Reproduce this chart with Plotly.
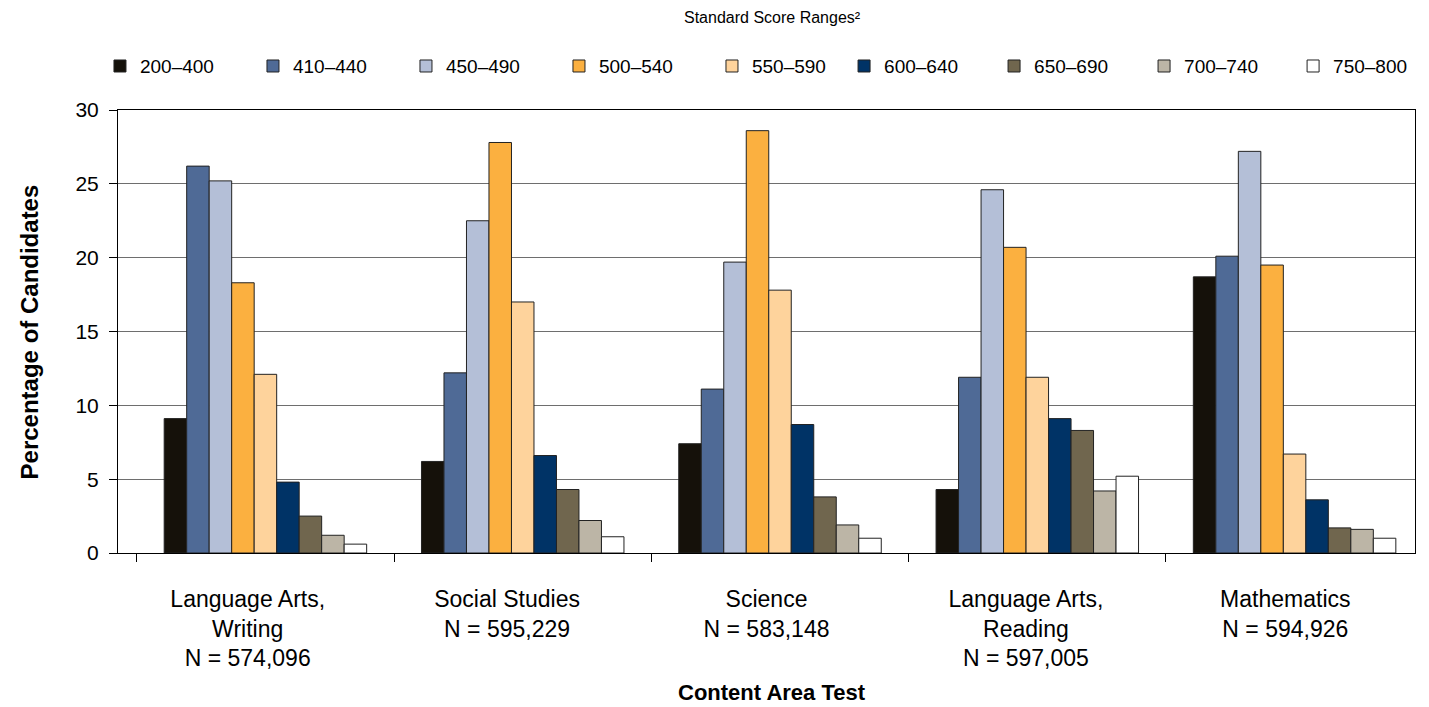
import plotly.graph_objects as go

# ---- data ----
categories = ["Language Arts, Writing", "Social Studies", "Science",
              "Language Arts, Reading", "Mathematics"]
category_labels = ["Language Arts,<br>Writing<br>N = 574,096",
                   "Social Studies<br>N = 595,229",
                   "Science<br>N = 583,148",
                   "Language Arts,<br>Reading<br>N = 597,005",
                   "Mathematics<br>N = 594,926"]
score_ranges = ["200–400", "410–440", "450–490", "500–540", "550–590",
                "600–640", "650–690", "700–740", "750–800"]

v_200_400 = [9.1, 6.2, 7.4, 4.3, 18.7]
v_410_440 = [26.2, 12.2, 11.1, 11.9, 20.1]
v_450_490 = [25.2, 22.5, 19.7, 24.6, 27.2]
v_500_540 = [18.3, 27.8, 28.6, 20.7, 19.5]
v_550_590 = [12.1, 17.0, 17.8, 11.9, 6.7]
v_600_640 = [4.8, 6.6, 8.7, 9.1, 3.6]
v_650_690 = [2.5, 4.3, 3.8, 8.3, 1.7]
v_700_740 = [1.2, 2.2, 1.9, 4.2, 1.6]
v_750_800 = [0.6, 1.1, 1.0, 5.2, 1.0]

series_values = [v_200_400, v_410_440, v_450_490, v_500_540, v_550_590,
                 v_600_640, v_650_690, v_700_740, v_750_800]
colors = ["#15110a", "#4f6a96", "#b4bfd7", "#fbb040", "#fed39c",
          "#003366", "#70664e", "#bcb5a6", "#ffffff"]
legend_groups = ["legend"] * 5 + ["legend2"] * 3 + ["legend3"]

FONT = "Liberation Sans, Arial, sans-serif"

fig = go.Figure()
for name, vals, col, lg in zip(score_ranges, series_values, colors, legend_groups):
    fig.add_trace(go.Bar(
        x=categories, y=vals, name=name, legend=lg,
        marker=dict(color=col, line=dict(color="#222222", width=1)),
    ))

# invisible carrier trace so the label axis (x2) is drawn
fig.add_trace(go.Scatter(
    x=list(range(len(category_labels))), y=[None] * len(category_labels),
    xaxis="x2", yaxis="y", mode="markers", showlegend=False,
    hoverinfo="skip", marker=dict(opacity=0),
))

legend_common = dict(
    orientation="h", xanchor="left", y=1.099, yanchor="middle",
    font=dict(size=19, family=FONT, color="black"),
    traceorder="normal", bgcolor="rgba(0,0,0,0)",
)

fig.update_layout(
    width=1421, height=699,
    margin=dict(l=110, r=14, t=102, b=154),
    paper_bgcolor="white", plot_bgcolor="white",
    barmode="group", bargap=0.213, bargroupgap=0,
    font=dict(family=FONT, color="black"),
    showlegend=True,
    legend=dict(x=-0.0139, entrywidth=108, entrywidthmode="pixels", **legend_common),
    legend2=dict(x=0.5598, entrywidth=105, entrywidthmode="pixels", **legend_common),
    legend3=dict(x=0.906, **legend_common),
    xaxis=dict(
        type="category", range=[-0.573, 4.468],
        showticklabels=False, ticks="outside", tickson="boundaries",
        ticklen=8, tickcolor="black", tickwidth=1,
        showline=True, linecolor="black", linewidth=1, mirror=True,
        showgrid=False, zeroline=False,
    ),
    xaxis2=dict(
        type="linear", range=[-0.5, 4.5], overlaying="x", anchor="y",
        side="bottom", tickmode="array",
        tickvals=list(range(len(category_labels))), ticktext=category_labels,
        ticks="outside", ticklen=25, tickcolor="rgba(0,0,0,0)",
        tickfont=dict(size=23, family=FONT, color="black"),
        showgrid=False, zeroline=False, showline=False,
    ),
    yaxis=dict(
        range=[0, 30], dtick=5, tick0=0,
        ticks="outside", ticklen=8, tickcolor="black", tickwidth=1,
        ticklabelstandoff=6,
        tickfont=dict(size=21, family=FONT, color="black"),
        showline=True, linecolor="black", linewidth=1, mirror=True,
        showgrid=True, gridcolor="#6e6e6e", gridwidth=1,
        zeroline=False,
    ),
    annotations=[
        dict(text="Standard Score Ranges²", xref="paper", yref="paper",
             x=0.5045, y=1.2077, xanchor="center", yanchor="middle",
             showarrow=False, font=dict(size=16, family=FONT)),
        dict(text="<b>Percentage of Candidates</b>", xref="paper", yref="paper",
             x=-0.0679, y=0.5, xanchor="center", yanchor="middle",
             textangle=-90, showarrow=False, font=dict(size=24, family=FONT)),
        dict(text="<b>Content Area Test</b>", xref="paper", yref="paper",
             x=0.504, y=-0.316, xanchor="center", yanchor="middle",
             showarrow=False, font=dict(size=22, family=FONT)),
    ],
)

fig.write_html("out.html")
